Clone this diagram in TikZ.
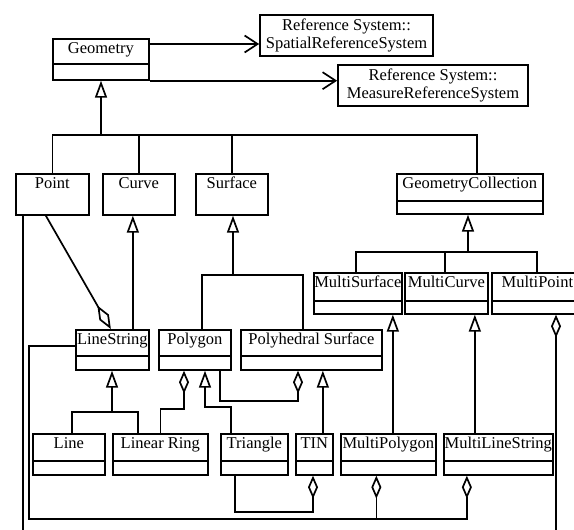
\documentclass[tikz,border=0pt]{standalone}
\usepackage{fontspec}
\setmainfont{Liberation Serif}
\usetikzlibrary{arrows.meta}

\tikzset{
  lw/.style={line width=1.7pt},
  cls/.style 2 args={draw, lw, inner sep=0pt, anchor=north west,
    minimum width=#1pt, minimum height=#2pt},
  ttl/.style={anchor=base, inner sep=0pt, font=\fontsize{16.5}{18}\selectfont},
  refbox/.style 2 args={draw, lw, inner sep=0pt, align=center,
    minimum width=#1pt, minimum height=#2pt, font=\fontsize{16.5}{18}\selectfont},
  conn/.style={lw, line join=miter},
  gen/.style={conn, -{Triangle[open, length=17pt, width=12pt, line join=miter]}},
  aggto/.style={conn, -{Diamond[open, length=23pt, width=10pt, line join=miter]}},
  aggfrom/.style={conn, {Diamond[open, length=23pt, width=10pt, line join=miter]}-},
  assoc/.style={conn, -{Straight Barb[length=13pt, width=17pt, line join=miter]}},
}

% class box: name, left, top, width, height, divider offset (empty for none), title
\newcommand\umlclass[7]{%
  \node[cls={#4}{#5}] (#1) at (#2,#3) {};
  \node[ttl] (#1-t) at ([yshift=-15pt]#1.north) {#7};
  \if\relax\detokenize{#6}\relax\else
    \draw[lw] ([yshift=-#6pt]#1.north west) -- ([yshift=-#6pt]#1.north east);
  \fi}

\begin{document}
\begin{tikzpicture}[x=1pt, y=-1pt]
  \useasboundingbox (0,0) rectangle (574,530);
  \clip (0,0) rectangle (574,530);
  \fill[white] (0,0) rectangle (574,530);

  % top level
  \umlclass{geom}{52}{38}{96}{41}{26}{Geometry}
  \node[refbox={173}{41}] (spatial) at (346.5,35.5)
    {Reference System::\\SpatialReferenceSystem};
  \node[refbox={190}{41}] (measure) at (433,85.5)
    {Reference System::\\MeasureReferenceSystem};

  % first level of subclasses
  \umlclass{point}{15}{173}{73}{41}{}{Point}
  \umlclass{curve}{102}{173}{72}{41}{}{Curve}
  \umlclass{surface}{195}{173}{72}{41}{}{Surface}
  \umlclass{gcoll}{396}{173}{146}{40}{28}{GeometryCollection}

  % collections
  \umlclass{msurf}{313}{272}{88}{41}{29}{MultiSurface}
  \umlclass{mcurve}{404}{272}{83}{41}{29}{MultiCurve}
  \umlclass{mpoint}{491}{272}{91}{41}{29}{MultiPoint}

  % curves and surfaces
  \umlclass{ls}{75}{329}{73}{40}{27}{LineString}
  \umlclass{poly}{158}{329}{72}{40}{27}{Polygon}
  \umlclass{phs}{240}{329}{141}{40}{27}{Polyhedral Surface}

  % leaves
  \umlclass{line}{32}{433}{72}{41}{28}{Line}
  \umlclass{lring}{112}{433}{95}{41}{28}{Linear Ring}
  \umlclass{tri}{220}{433}{67}{41}{28}{Triangle}
  \umlclass{tin}{295}{433}{37}{41}{28}{TIN}
  \umlclass{mpoly}{340}{433}{95}{41}{28}{MultiPolygon}
  \umlclass{mls}{443}{433}{109}{41}{28}{MultiLineString}

  % junction points
  \coordinate (gbus) at (101,135);
  \coordinate (sbus) at (233,275);
  \coordinate (cbus) at (468,252);
  \coordinate (lbus) at (112,412);
  \coordinate (ragg) at (184,409);
  \coordinate (tgen) at (205,407);
  \coordinate (pagg) at (298,401);
  \coordinate (tagg) at (313,512);
  \coordinate (bbus) at (29,519);
  \coordinate (pend) at (23,530);
  \coordinate (mpend) at (556,530);

  % Geometry associations
  \draw[assoc] ([yshift=-6pt]geom.north east) -- ([yshift=-6pt]geom.north east -| spatial.west);
  \draw[assoc] (geom.south east) -- (geom.south east -| measure.west);

  % Geometry generalization
  \draw[gen] (gbus) -- (gbus |- geom.south);
  \draw[conn] (point.north) |- ([xshift=7pt]gcoll.north |- gbus) -- ([xshift=7pt]gcoll.north);
  \draw[conn] (curve.north) -- (curve.north |- gbus);
  \draw[conn] (surface.north) -- (surface.north |- gbus);

  % Point
  \draw[conn] ([xshift=8pt]point.south west) -- (pend);
  \draw[conn, -{Diamond[open, length=27pt, width=11pt, line join=miter]}]
    ([xshift=-6.5pt]point.south) -- ([xshift=-1.5pt]ls.north);

  % Curve and Surface
  \draw[gen] ([xshift=-6pt]curve.south |- ls.north) -- ([xshift=-6pt]curve.south);
  \draw[gen] (sbus) -- (sbus |- surface.south);
  \draw[conn] ([xshift=7pt]poly.north) |- (sbus) -| ([xshift=-8.5pt]phs.north);

  % GeometryCollection
  \draw[gen] (cbus) -- (cbus |- gcoll.south);
  \draw[conn] ([xshift=-2pt]msurf.north) |- (cbus) -| ([xshift=-0.5pt]mpoint.north);
  \draw[conn] ([xshift=-1.5pt]mcurve.north) -- ([xshift=-1.5pt]mcurve.north |- cbus);
  \draw[gen] ([xshift=4.5pt]mpoly.north) -- ([xshift=4.5pt]mpoly.north |- msurf.south);
  \draw[gen] ([xshift=-23.5pt]mls.north) -- ([xshift=-23.5pt]mls.north |- mcurve.south);
  \draw[aggto] (mpend) -- (mpend |- mpoint.south);

  % LineString
  \draw[gen] (lbus) -- (lbus |- ls.south);
  \draw[conn] ([xshift=3pt]line.north) |- (lbus) -| ([xshift=-22.5pt]lring.north);

  % Polygon
  \draw[aggto] (lring.north) |- (ragg) -- (ragg |- poly.south);
  \draw[gen] ([xshift=-23.5pt]tri.north) |- (tgen) -- (tgen |- poly.south);
  \draw[aggto] ([xshift=25pt]poly.south) |- (pagg) -- (pagg |- phs.south);

  % Polyhedral Surface
  \draw[gen] ([xshift=8.5pt]tin.north) -- ([xshift=8.5pt]tin.north |- phs.south);
  \draw[aggto] ([xshift=-19.5pt]tri.south) |- (tagg) -- (tagg |- tin.south);

  % bottom aggregation bus
  \draw[aggfrom] ([xshift=-31.5pt]mls.south) |- (bbus) |- ([yshift=-17pt]ls.north west);
  \draw[aggfrom] ([xshift=-12pt]mpoly.south) -- ([xshift=-12pt]mpoly.south |- bbus);
\end{tikzpicture}
\end{document}
